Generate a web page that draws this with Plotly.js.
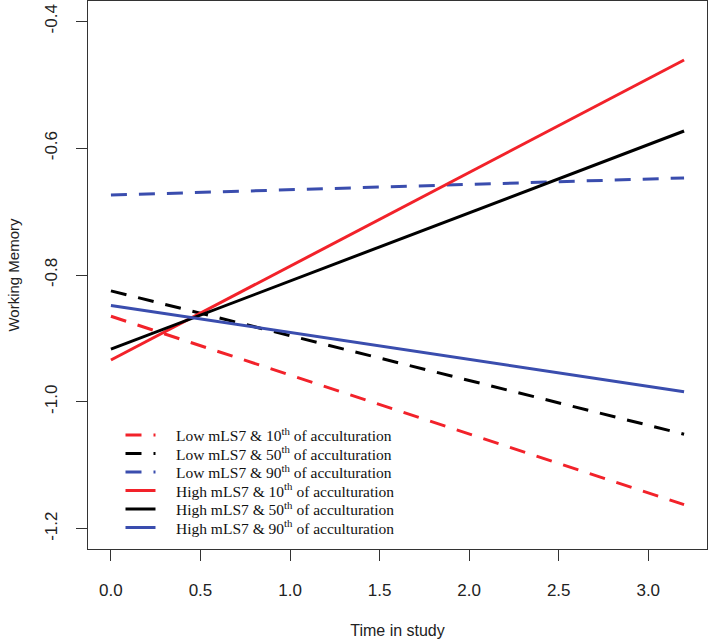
<!DOCTYPE html>
<html>
<head>
<meta charset="utf-8">
<script src="https://cdn.plot.ly/plotly-3.0.1.min.js"></script>
<style>html,body{margin:0;padding:0;background:#fff;}#chart{width:709px;height:644px;}</style>
</head>
<body>
<div id="chart"></div>
<script>
// Data
const time = [0, 3.2];
const lowP10 = [-0.865, -1.162];
const lowP50 = [-0.825, -1.051];
const lowP90 = [-0.674, -0.647];
const highP10 = [-0.934, -0.461];
const highP50 = [-0.917, -0.573];
const highP90 = [-0.848, -0.984];
const seriesNames = [
  'Low mLS7 & 10<sup>th</sup> of acculturation',
  'Low mLS7 & 50<sup>th</sup> of acculturation',
  'Low mLS7 & 90<sup>th</sup> of acculturation',
  'High mLS7 & 10<sup>th</sup> of acculturation',
  'High mLS7 & 50<sup>th</sup> of acculturation',
  'High mLS7 & 90<sup>th</sup> of acculturation'
];
const xTicks = [0, 0.5, 1, 1.5, 2, 2.5, 3];
const xTickText = ['0.0', '0.5', '1.0', '1.5', '2.0', '2.5', '3.0'];
const yTicks = [-1.2, -1.0, -0.8, -0.6, -0.4];
const yTickText = ['-1.2', '-1.0', '-0.8', '-0.6', '-0.4'];

const RED = '#f2222a', BLACK = '#000000', BLUE = '#3a4dae';
const DASH = '16px,12px';
const seriesValues = [lowP10, lowP50, lowP90, highP10, highP50, highP90];
const styles = [
  {color: RED, dash: DASH}, {color: BLACK, dash: DASH}, {color: BLUE, dash: DASH},
  {color: RED, dash: 'solid'}, {color: BLACK, dash: 'solid'}, {color: BLUE, dash: 'solid'}
];
const PAD = '\u00a0\u00a0\u00a0\u00a0';
const legendIds = ['legend', 'legend2', 'legend3', 'legend4', 'legend5', 'legend6'];
const traces = seriesValues.map((v, i) => ({
  x: time, y: v, type: 'scatter', mode: 'lines', name: PAD + seriesNames[i],
  legend: legendIds[i],
  line: {color: styles[i].color, dash: styles[i].dash, width: 3}
}));

const axisCommon = {
  showline: true, mirror: true, linecolor: '#333', linewidth: 1,
  ticks: 'outside', ticklen: 11, tickcolor: '#333', tickwidth: 1,
  showgrid: false, zeroline: false,
  tickfont: {family: 'Liberation Sans, Arial, sans-serif', size: 17, color: '#222'}
};
const layout = {
  width: 709, height: 644,
  margin: {l: 88, r: 2, t: 1, b: 95},
  paper_bgcolor: '#fff', plot_bgcolor: '#fff',
  showlegend: true,
  xaxis: Object.assign({}, axisCommon, {
    range: [-0.128, 3.328], tickvals: xTicks, ticktext: xTickText, ticklabelstandoff: 15,
    title: {text: 'Time in study', font: {family: 'Liberation Sans, Arial, sans-serif', size: 16, color: '#222'}, standoff: 25}
  }),
  yaxis: Object.assign({}, axisCommon, {
    range: [-1.232, -0.368], tickvals: yTicks, ticktext: yTickText, tickangle: -90, ticklabelstandoff: 12,
    title: {text: 'Working Memory', font: {family: 'Liberation Sans, Arial, sans-serif', size: 15, color: '#222'}, standoff: 18}
  })
};
const rowPix = [435.5, 454, 472.5, 491, 509.5, 528];
legendIds.forEach((id, i) => {
  layout[id] = {
    x: 0.0525, y: (549 - rowPix[i]) / 548, xanchor: 'left', yanchor: 'middle',
    bgcolor: 'rgba(0,0,0,0)', borderwidth: 0,
    font: {family: 'Liberation Serif, Times New Roman, serif', size: 15.5, color: '#111'}
  };
});
Plotly.newPlot('chart', traces, layout, {displayModeBar: false, staticPlot: true});
</script>
</body>
</html>
